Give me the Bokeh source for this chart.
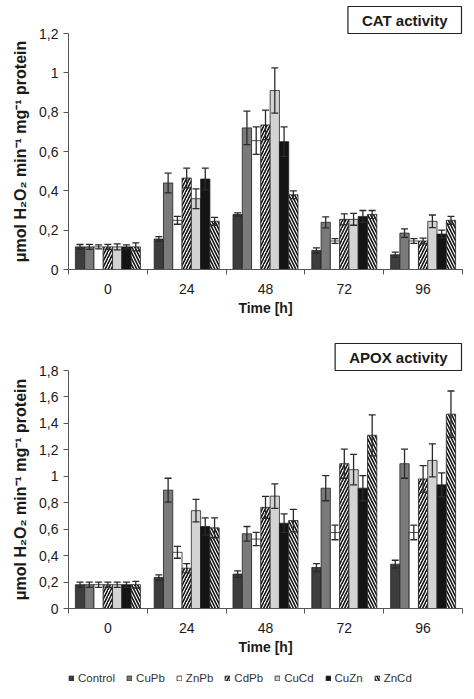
from bokeh.plotting import figure
from bokeh.models import (ColumnDataSource, FactorRange, Range1d, Whisker, TeeHead,
                          Legend, LegendItem, Title, FixedTicker, LinearAxis)
from bokeh.transform import dodge
from bokeh.layouts import column
from bokeh.embed import file_html
from bokeh.resources import INLINE

times = ["0", "24", "48", "72", "96"]
series = ["Control", "CuPb", "ZnPb", "CdPb", "CuCd", "CuZn", "ZnCd"]

# CAT activity (means and SD)
cat_control = [0.115, 0.155, 0.28, 0.097, 0.075]
cat_cupb = [0.115, 0.44, 0.72, 0.24, 0.185]
cat_znpb = [0.115, 0.25, 0.655, 0.145, 0.145]
cat_cdpb = [0.115, 0.465, 0.735, 0.255, 0.145]
cat_cucd = [0.115, 0.36, 0.91, 0.255, 0.245]
cat_cuzn = [0.115, 0.46, 0.65, 0.27, 0.18]
cat_zncd = [0.115, 0.245, 0.38, 0.28, 0.25]
cat_control_err = [0.012, 0.012, 0.008, 0.013, 0.013]
cat_cupb_err = [0.013, 0.05, 0.085, 0.028, 0.022]
cat_znpb_err = [0.01, 0.02, 0.07, 0.012, 0.012]
cat_cdpb_err = [0.013, 0.05, 0.075, 0.028, 0.015]
cat_cucd_err = [0.015, 0.05, 0.115, 0.03, 0.032]
cat_cuzn_err = [0.01, 0.055, 0.075, 0.03, 0.02]
cat_zncd_err = [0.02, 0.02, 0.02, 0.02, 0.02]

# APOX activity (means and SD)
apox_control = [0.18, 0.235, 0.26, 0.31, 0.335]
apox_cupb = [0.18, 0.895, 0.565, 0.91, 1.095]
apox_znpb = [0.18, 0.425, 0.525, 0.575, 0.575]
apox_cdpb = [0.18, 0.305, 0.765, 1.095, 0.98]
apox_cucd = [0.18, 0.74, 0.85, 1.05, 1.12]
apox_cuzn = [0.18, 0.62, 0.645, 0.91, 0.935]
apox_zncd = [0.18, 0.61, 0.665, 1.31, 1.47]
apox_control_err = [0.02, 0.02, 0.025, 0.03, 0.03]
apox_cupb_err = [0.02, 0.09, 0.055, 0.095, 0.11]
apox_znpb_err = [0.02, 0.045, 0.05, 0.055, 0.055]
apox_cdpb_err = [0.02, 0.035, 0.083, 0.11, 0.1]
apox_cucd_err = [0.02, 0.085, 0.093, 0.115, 0.125]
apox_cuzn_err = [0.02, 0.065, 0.07, 0.095, 0.09]
apox_zncd_err = [0.025, 0.075, 0.085, 0.155, 0.175]

cat_ticks = [0, 0.2, 0.4, 0.6, 0.8, 1.0, 1.2]
cat_tick_labels = ["0", "0,2", "0,4", "0,6", "0,8", "1", "1,2"]
apox_ticks = [0, 0.2, 0.4, 0.6, 0.8, 1.0, 1.2, 1.4, 1.6, 1.8]
apox_tick_labels = ["0", "0,2", "0,4", "0,6", "0,8", "1", "1,2", "1,4", "1,6", "1,8"]

FONT = "Liberation Sans"
TXT = "#1a1a1a"
AX = "#555555"
BAR_W = 0.825 / 7

styles = {
    "Control": dict(fill_color="#3d3d3d"),
    "CuPb": dict(fill_color="#7a7a7a"),
    "ZnPb": dict(fill_color="white"),
    "CdPb": dict(fill_color="white", hatch_pattern="/", hatch_color="#111111",
                 hatch_weight=1.6, hatch_scale=6),
    "CuCd": dict(fill_color="#d3d3d3"),
    "CuZn": dict(fill_color="#141414"),
    "ZnCd": dict(fill_color="white", hatch_pattern="\\", hatch_color="#111111",
                 hatch_weight=1.6, hatch_scale=6),
}


def make_chart(vals, errs, ticks, tick_labels, ymax, title, height, top_border,
               bottom_border):
    xr = FactorRange(*times, range_padding=0)
    p = figure(x_range=xr, y_range=Range1d(0, ymax), width=466, height=height,
               output_backend="svg", toolbar_location=None, x_axis_type=None,
               min_border_left=68, min_border_right=4,
               min_border_top=top_border, min_border_bottom=bottom_border)
    p.outline_line_color = None
    p.grid.visible = False

    for i, (s, v, e) in enumerate(zip(series, vals, errs)):
        off = (i - 3) * BAR_W
        src = ColumnDataSource(dict(
            t=times, top=v,
            upper=[a + b for a, b in zip(v, e)],
            lower=[a - b for a, b in zip(v, e)]))
        p.vbar(x=dodge("t", off, range=xr), top="top", width=BAR_W, source=src,
               line_color="#222222", line_width=0.8, **styles[s])
        w = Whisker(source=src, base=dodge("t", off, range=xr), upper="upper",
                    lower="lower", line_color="#2a2a2a", line_width=1.3, level="overlay",
                    upper_head=TeeHead(size=7, line_color="#2a2a2a", line_width=1.3),
                    lower_head=TeeHead(size=7, line_color="#2a2a2a", line_width=1.3))
        p.add_layout(w)

    ya = p.yaxis[0]
    ya.ticker = FixedTicker(ticks=ticks)
    ya.major_label_overrides = {k: lab for k, lab in zip(ticks, tick_labels)}
    ya.minor_tick_line_color = None
    ya.major_tick_in = 0
    ya.major_tick_out = 5
    ya.axis_line_color = AX
    ya.major_tick_line_color = AX
    ya.major_label_standoff = 5
    ya.major_label_text_font = FONT
    ya.major_label_text_font_size = "14px"
    ya.major_label_text_color = TXT
    ya.axis_label = "\u03bcmol H\u2082O\u2082 min\u207b\u00b9 mg\u207b\u00b9 protein"
    ya.axis_label_text_font = FONT
    ya.axis_label_text_font_size = "16px"
    ya.axis_label_text_font_style = "bold"
    ya.axis_label_text_color = TXT
    ya.axis_label_standoff = 7

    # x axis on the factor range's synthetic coordinates:
    # labels at group centres, minor ticks at group boundaries
    centers = [k + 0.5 for k in range(len(times))]
    bounds = list(range(len(times) + 1))
    xa = LinearAxis(ticker=FixedTicker(ticks=centers, minor_ticks=bounds))
    xa.major_label_overrides = {c: t for c, t in zip(centers, times)}
    xa.major_tick_line_color = None
    xa.major_tick_out = 0
    xa.major_tick_in = 0
    xa.minor_tick_in = 0
    xa.minor_tick_out = 5
    xa.minor_tick_line_color = AX
    xa.axis_line_color = AX
    xa.major_label_standoff = 9
    xa.major_label_text_font = FONT
    xa.major_label_text_font_size = "14px"
    xa.major_label_text_color = TXT
    xa.axis_label = "Time [h]"
    xa.axis_label_text_font = FONT
    xa.axis_label_text_font_size = "14px"
    xa.axis_label_text_font_style = "bold"
    xa.axis_label_text_color = TXT
    xa.axis_label_standoff = 3
    p.add_layout(xa, "below")

    t = Title(text=title, align="right", text_font=FONT, text_font_size="15px",
              text_font_style="bold", text_color=TXT, standoff=0, offset=1,
              border_line_color="#222222", border_line_width=1.2,
              background_fill_color="white",
              padding=dict(left=14, right=14, top=5, bottom=5))
    p.add_layout(t, "above")
    return p


p1 = make_chart([cat_control, cat_cupb, cat_znpb, cat_cdpb, cat_cucd, cat_cuzn, cat_zncd],
                [cat_control_err, cat_cupb_err, cat_znpb_err, cat_cdpb_err, cat_cucd_err,
                 cat_cuzn_err, cat_zncd_err],
                cat_ticks, cat_tick_labels, 1.2, "CAT activity", 338, 33, 69)
p2 = make_chart([apox_control, apox_cupb, apox_znpb, apox_cdpb, apox_cucd, apox_cuzn,
                 apox_zncd],
                [apox_control_err, apox_cupb_err, apox_znpb_err, apox_cdpb_err,
                 apox_cucd_err, apox_cuzn_err, apox_zncd_err],
                apox_ticks, apox_tick_labels, 1.8, "APOX activity", 322, 32, 52)

# legend strip: hidden key renderers carrying the same bar styles
pl = figure(width=466, height=31, x_range=Range1d(0, 1), y_range=Range1d(0, 1),
            output_backend="svg", toolbar_location=None, x_axis_type=None,
            y_axis_type=None, min_border=0)
pl.outline_line_color = None
pl.grid.visible = False
items = []
for s in series:
    key_src = ColumnDataSource(dict(x=[0.5], top=[0.0]))
    r = pl.vbar(x="x", top="top", width=0.01, source=key_src, line_color="#222222",
                line_width=0.8, visible=False, **styles[s])
    items.append(LegendItem(label=s, renderers=[r]))
lg = Legend(items=items, orientation="horizontal", location=(0, 7),
            label_text_font=FONT, label_text_font_size="11.5px",
            label_text_color="#333333", glyph_width=6, glyph_height=6,
            label_standoff=4, spacing=11, padding=0, margin=0,
            border_line_color=None, background_fill_alpha=0, label_height=12,
            inactive_fill_alpha=0)
pl.add_layout(lg)

layout = column(p1, p2, pl, spacing=0)
open("out.html", "w").write(file_html(layout, INLINE))
